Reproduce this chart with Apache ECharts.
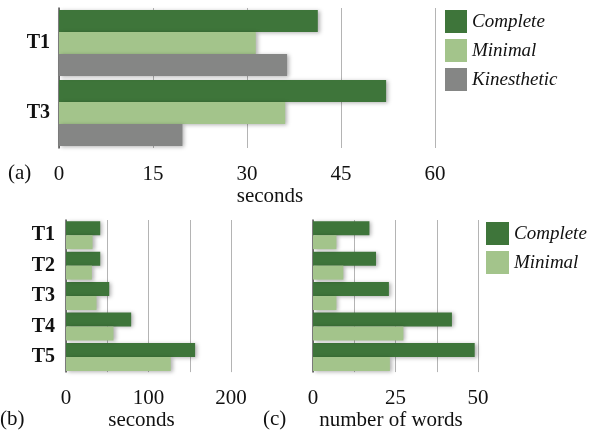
<!DOCTYPE html>
<html>
<head>
<meta charset="utf-8">
<script src="https://cdn.jsdelivr.net/npm/echarts@6/dist/echarts.min.js"></script>
<style>
  html, body {margin: 0; padding: 0; background: #fff;}
  #chart {width: 592px; height: 432px;}
</style>
</head>
<body>
<div id="chart"></div>
<script>
// (a) time per task, three conditions
var topTasks = ['T1', 'T3'];
var topComplete = [41.3, 52.2];
var topMinimal = [31.4, 36.1];
var topKinesthetic = [36.4, 19.7];

// (b) seconds and (c) number of words, five tasks
var tasks = ['T1', 'T2', 'T3', 'T4', 'T5'];
var secComplete = [41.5, 41.5, 52.4, 79, 156.5];
var secMinimal = [32.2, 31.4, 37, 57.6, 127];
var wordsComplete = [17.1, 19.1, 23.0, 42.1, 49.0];
var wordsMinimal = [7.1, 9.2, 7.1, 27.4, 23.3];

var DARK = '#3e753a', LIGHT = '#a3c48b', GRAY = '#858685';
var FONT = 'Liberation Serif';

var myChart = echarts.init(document.getElementById('chart'));

function shadowStyle(color) {
    return {
        color: color,
        shadowBlur: 4,
        shadowColor: 'rgba(0,0,0,0.3)',
        shadowOffsetX: 2,
        shadowOffsetY: 1
    };
}

function valueAxis(idx, max, interval, name, minor, namePad) {
    return {
        type: 'value',
        gridIndex: idx,
        min: 0,
        max: max,
        interval: interval,
        name: name,
        nameLocation: 'middle',
        nameGap: idx === 0 ? 34 : 32,
        nameTextStyle: {fontFamily: FONT, fontSize: 21, color: '#111', padding: namePad},
        axisLine: {show: false},
        axisTick: {show: false},
        axisLabel: {fontFamily: FONT, fontSize: 21, color: '#111', margin: 16},
        splitLine: {show: true, lineStyle: {color: '#b4b4b4', width: 1}},
        minorTick: {show: false, splitNumber: minor},
        minorSplitLine: {show: minor > 1, lineStyle: {color: '#b4b4b4', width: 1}}
    };
}

function catAxis(idx, data, margin, showLabel) {
    return {
        type: 'category',
        gridIndex: idx,
        data: data,
        inverse: true,
        axisLine: {show: true, lineStyle: {color: '#555', width: 1.5}},
        axisTick: {show: false},
        axisLabel: {
            show: showLabel,
            fontFamily: FONT, fontSize: 20, fontWeight: 'bold', color: '#111',
            margin: margin
        }
    };
}

myChart.setOption({
    animation: false,
    textStyle: {fontFamily: FONT},
    grid: [
        {left: 59, right: 157, top: 8, height: 140},
        {left: 66, right: 361, top: 220, height: 156},
        {left: 313, right: 114, top: 220, height: 156}
    ],
    xAxis: [
        valueAxis(0, 60, 15, 'seconds', 1, [0, 0, 0, 46]),
        valueAxis(1, 200, 100, 'seconds', 2, [0, 14, 0, 0]),
        valueAxis(2, 50, 25, 'number of words', 2, [0, 9, 0, 0])
    ],
    yAxis: [
        catAxis(0, topTasks, 9, true),
        catAxis(1, tasks, 11, true),
        catAxis(2, tasks, 11, false)
    ],
    legend: [{
        data: ['Complete', 'Minimal', 'Kinesthetic'],
        orient: 'vertical',
        left: 440, top: 5,
        itemWidth: 22, itemHeight: 23, itemGap: 6,
        icon: 'rect',
        textStyle: {fontFamily: FONT, fontSize: 19, fontStyle: 'italic', color: '#111'}
    }, {
        data: ['Complete', 'Minimal'],
        orient: 'vertical',
        left: 481, top: 217,
        itemWidth: 23, itemHeight: 23, itemGap: 6,
        icon: 'rect',
        textStyle: {fontFamily: FONT, fontSize: 19, fontStyle: 'italic', color: '#111'}
    }],
    graphic: [
        {type: 'text', left: 8, top: 163, style: {text: '(a)', fontFamily: FONT, fontSize: 21, fill: '#111'}},
        {type: 'text', left: 0, top: 409, style: {text: '(b)', fontFamily: FONT, fontSize: 21, fill: '#111'}},
        {type: 'text', left: 263, top: 409, style: {text: '(c)', fontFamily: FONT, fontSize: 21, fill: '#111'}}
    ],
    series: [
        {name: 'Complete', type: 'bar', xAxisIndex: 0, yAxisIndex: 0, data: topComplete,
            barGap: '0%', barCategoryGap: '6%', itemStyle: shadowStyle(DARK)},
        {name: 'Minimal', type: 'bar', xAxisIndex: 0, yAxisIndex: 0, data: topMinimal,
            itemStyle: shadowStyle(LIGHT)},
        {name: 'Kinesthetic', type: 'bar', xAxisIndex: 0, yAxisIndex: 0, data: topKinesthetic,
            itemStyle: shadowStyle(GRAY)},

        {name: 'Complete', type: 'bar', xAxisIndex: 1, yAxisIndex: 1, data: secComplete,
            barGap: '0%', barCategoryGap: '8%', itemStyle: shadowStyle(DARK)},
        {name: 'Minimal', type: 'bar', xAxisIndex: 1, yAxisIndex: 1, data: secMinimal,
            itemStyle: shadowStyle(LIGHT)},

        {name: 'Complete', type: 'bar', xAxisIndex: 2, yAxisIndex: 2, data: wordsComplete,
            barGap: '0%', barCategoryGap: '8%', itemStyle: shadowStyle(DARK)},
        {name: 'Minimal', type: 'bar', xAxisIndex: 2, yAxisIndex: 2, data: wordsMinimal,
            itemStyle: shadowStyle(LIGHT)}
    ]
});
</script>
</body>
</html>
